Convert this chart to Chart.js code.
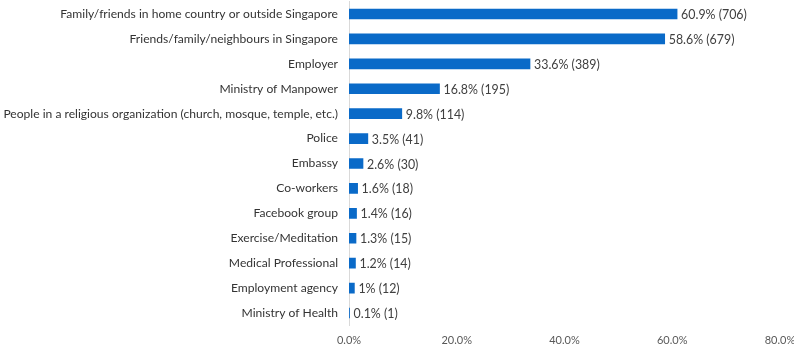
<!DOCTYPE html>
<html>
<head>
<meta charset="utf-8">
<script src="https://cdn.jsdelivr.net/npm/chart.js@4.4.0/dist/chart.umd.min.js"></script>
<style>
  html, body { margin: 0; padding: 0; background: #fff; }
  #wrap { width: 794px; height: 346px; }
</style>
</head>
<body>
<div id="wrap"><canvas id="chart"></canvas></div>
<script>
// categories (top to bottom)
const categories = [
  'Family/friends in home country or outside Singapore',
  'Friends/family/neighbours in Singapore',
  'Employer',
  'Ministry of Manpower',
  'People in a religious organization (church, mosque, temple, etc.)',
  'Police',
  'Embassy',
  'Co-workers',
  'Facebook group',
  'Exercise/Meditation',
  'Medical Professional',
  'Employment agency',
  'Ministry of Health'
];
// percentages
const percents = [60.9, 58.6, 33.6, 16.8, 9.8, 3.5, 2.6, 1.6, 1.4, 1.3, 1.2, 1, 0.1];
// counts
const counts = [706, 679, 389, 195, 114, 41, 30, 18, 16, 15, 14, 12, 1];
// x ticks
const xTicks = [0, 20, 40, 60, 80];

const fontFam = 'Lato, "Liberation Sans", sans-serif';

// étiquettes de valeur au bout des barres
const labelPlugin = {
  id: 'barLabels',
  afterDatasetsDraw(chart) {
    const ctx = chart.ctx;
    const meta = chart.getDatasetMeta(0);
    ctx.save();
    ctx.font = '12.4px ' + fontFam;
    ctx.fillStyle = '#404040';
    ctx.textBaseline = 'middle';
    ctx.textAlign = 'left';
    meta.data.forEach((bar, i) => {
      ctx.fillText(percents[i] + '% (' + counts[i] + ')', bar.x + 4, bar.y + 1);
    });
    ctx.restore();
  }
};

const ctx = document.getElementById('chart').getContext('2d');
const chart = new Chart(ctx, {
  type: 'bar',
  data: {
    labels: categories,
    datasets: [{
      data: percents,
      backgroundColor: '#0A6AC8',
      barThickness: 10
    }]
  },
  options: {
    indexAxis: 'y',
    responsive: true,
    maintainAspectRatio: false,
    animation: false,
    layout: { padding: { top: 1.5, right: 0, left: 0, bottom: 0 } },
    plugins: {
      legend: { display: false },
      tooltip: { enabled: false }
    },
    scales: {
      x: {
        min: 0,
        max: 80,
        afterBuildTicks(scale) {
          scale.ticks = xTicks.map(v => ({ value: v }));
        },
        grid: { display: false, drawTicks: false },
        border: { display: false },
        ticks: {
          color: '#595959',
          font: { family: fontFam, size: 11 },
          padding: 8,
          callback: v => v.toFixed(1) + '%'
        },
        afterFit(scale) {
          scale.height = 20.5;
          scale.paddingLeft = 0;
          scale.paddingRight = 14;
        }
      },
      y: {
        grid: { display: false, drawTicks: false },
        border: { display: true, color: '#d9d9d9', width: 1 },
        ticks: {
          color: '#333333',
          font: { family: fontFam, size: 12.1 },
          padding: 11
        },
        afterFit(scale) {
          scale.width = 349;
          scale.paddingTop = 0;
          scale.paddingBottom = 0;
        }
      }
    }
  },
  plugins: [labelPlugin]
});
</script>
</body>
</html>
